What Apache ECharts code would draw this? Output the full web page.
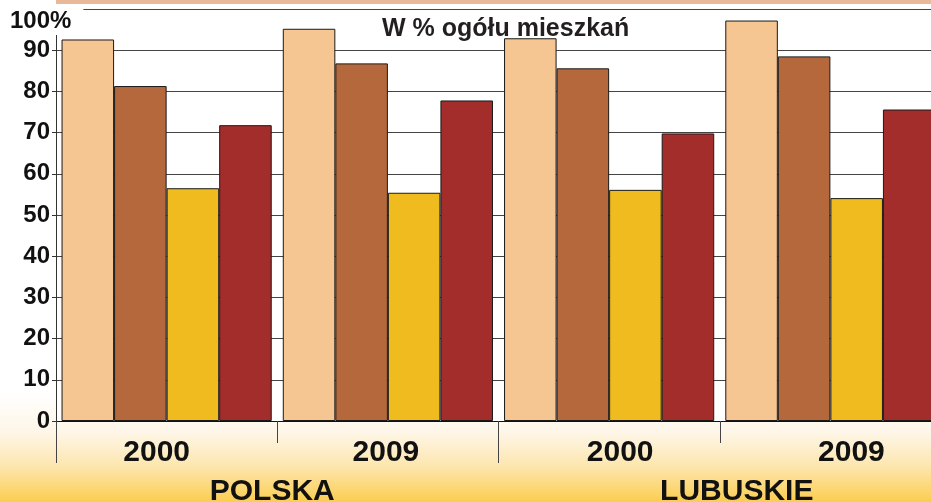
<!DOCTYPE html>
<html>
<head>
<meta charset="utf-8">
<script src="https://cdn.jsdelivr.net/npm/echarts@6/dist/echarts.min.js"></script>
<style>
html,body{margin:0;padding:0;}
#c{width:931px;height:502px;}
</style>
</head>
<body>
<div id="c"></div>
<script>
const titleText = 'W % ogółu mieszkań';
const years = ['2000', '2009', '2000', '2009'];
const regions = ['POLSKA', 'LUBUSKIE'];
const seriesA = [92.6, 95.2, 92.9, 97.2];
const seriesB = [81.3, 86.8, 85.6, 88.5];
const seriesC = [56.5, 55.4, 56.1, 54.1];
const seriesD = [71.8, 77.8, 69.8, 75.6];
const yTopLabel = '100%';
const seriesNames = ['Seria 1', 'Seria 2', 'Seria 3', 'Seria 4'];
const colors = ['#f5c592', '#b5683c', '#f0bb1e', '#a32d2b'];

const FONT = "'Liberation Sans', Arial, sans-serif";
const chart = echarts.init(document.getElementById('c'), null, {renderer: 'canvas'});

const yearPad = [[0, 20, 0, 0], [0, 4, 0, 0], [0, 0, 0, 22], [0, 0, 0, 42]];
const yearRich = {};
yearPad.forEach((p, i) => { yearRich['o' + i] = {padding: p, fontSize: 30, fontWeight: 'bold', fontFamily: FONT, color: '#111'}; });
const regionRich = {
  r0: {padding: [0, 10, 0, 0], fontSize: 30, fontWeight: 'bold', fontFamily: FONT, color: '#111'},
  r1: {padding: [0, 0, 0, 34], fontSize: 30, fontWeight: 'bold', fontFamily: FONT, color: '#111'}
};

const data = [seriesA, seriesB, seriesC, seriesD];

chart.setOption({
  animation: false,
  backgroundColor: {
    type: 'linear', x: 0, y: 0, x2: 0, y2: 1,
    colorStops: [
      {offset: 0, color: '#ffffff'},
      {offset: 0.78, color: '#ffffff'},
      {offset: 0.86, color: '#fef6e8'},
      {offset: 0.93, color: '#fde6ad'},
      {offset: 1, color: '#fbcd4f'}
    ]
  },
  title: {
    text: titleText,
    left: 377, top: 12,
    textStyle: {fontFamily: FONT, fontSize: 25, fontWeight: 'bold', color: '#231f20'}
  },
  grid: {left: 56, width: 885, top: 9, height: 412, show: true, backgroundColor: '#ffffff', borderWidth: 0,
    containLabel: false, outerBoundsMode: 'none'},
  xAxis: [
    {
      type: 'category', data: years, position: 'bottom',
      axisLine: {show: true, lineStyle: {color: '#111', width: 1}},
      axisTick: {show: true, length: 22, lineStyle: {color: '#444'}},
      axisLabel: {
        margin: 17,
        formatter: (v, i) => '{o' + i + '|' + v + '}',
        rich: yearRich
      }
    },
    {
      type: 'category', data: regions, position: 'bottom', offset: 0,
      axisLine: {show: false},
      axisTick: {show: true, length: 42, lineStyle: {color: '#444'}},
      axisLabel: {
        margin: 56,
        formatter: (v, i) => '{r' + i + '|' + v + '}',
        rich: regionRich
      }
    }
  ],
  yAxis: {
    type: 'value', min: 0, max: 100, interval: 10,
    axisLine: {show: true, lineStyle: {color: '#333'}},
    axisTick: {show: true, length: 4, lineStyle: {color: '#333'}},
    splitLine: {show: true, lineStyle: {color: '#444', width: 1}},
    axisLabel: {
      margin: 6,
      fontFamily: FONT, fontSize: 24, fontWeight: 'bold', color: '#111',
      formatter: v => (v === 100 ? '' : String(v))
    }
  },
  graphic: [
    {type: 'rect', z: 100, shape: {x: 56, y: 0, width: 875, height: 4}, style: {fill: '#e8b898'}},
    {type: 'text', z: 100, x: 8, y: 7,
      style: {text: yTopLabel, font: 'bold 24px ' + FONT, fill: '#111', backgroundColor: '#ffffff', padding: [2, 12, 2, 2]}}
  ],
  series: data.map((d, i) => ({
    type: 'bar', name: seriesNames[i], data: d, xAxisIndex: 0,
    barGap: '0%', barCategoryGap: '5%',
    itemStyle: {color: colors[i], borderColor: '#1a1a1a', borderWidth: 1}
  }))
});
</script>
</body>
</html>
